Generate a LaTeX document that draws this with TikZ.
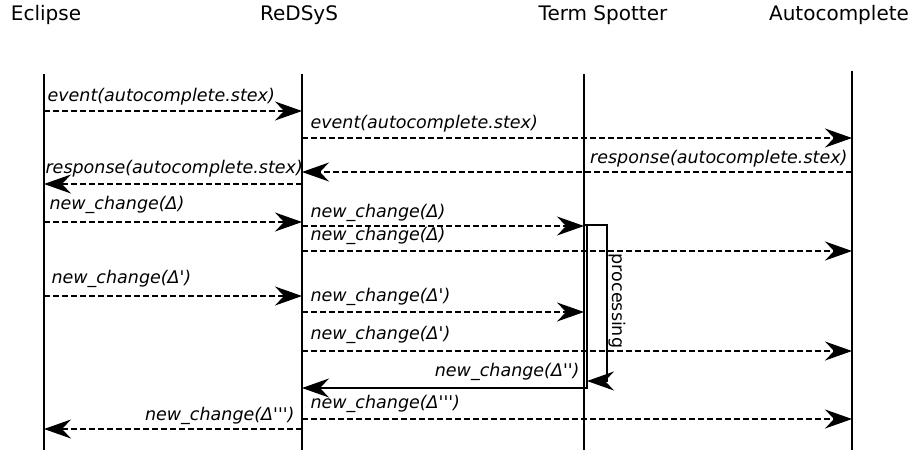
\documentclass[tikz,border=0pt]{standalone}
\usepackage{fontspec}
\newfontfamily\seqfont{DejaVu Sans}[ItalicFont={DejaVu Sans Oblique}]
\usetikzlibrary{arrows.meta}

\tikzset{
	actor/.style={font=\seqfont\fontsize{20}{24}\selectfont,anchor=base,inner sep=0pt},
	lbl/.style={font=\seqfont\itshape\fontsize{17.5}{21}\selectfont,inner sep=0pt},
	lifeline/.style={line width=1.4pt},
	tip/.tip={Stealth[length=27pt,width=19pt,inset=9pt]},
	msg/.style={line width=1.1pt,dash pattern=on 6pt off 3pt,-tip},
	ret/.style={line width=1.1pt,-tip}
}

\begin{document}
\begin{tikzpicture}[x=1pt,y=-1pt]
	\useasboundingbox (0,0) rectangle (921,451);

	% actors
	\node[actor] (eclipse) at (46,20) {Eclipse};
	\node[actor] (redsys) at (299,20) {ReDSyS};
	\node[actor] (spotter) at (603,20) {Term Spotter};
	\node[actor] (autoc) at (839,20) {Autocomplete};

	% lifelines
	\coordinate (ecl) at (44,74);
	\coordinate (rds) at (302,74);
	\coordinate (tsp) at (584,74);
	\coordinate (acp) at (852,71);
	\foreach \l in {ecl,rds,tsp,acp}
		\draw[lifeline] (\l) -- (\l |- 0,450);

	% activation of the term spotter
	\coordinate (act) at (tsp |- 0,225);
	\draw[line width=1.1pt] (act) rectangle (587,388);
	\draw[line width=1.3pt,-tip] (587,225) -| (607,381) -- (587,381);
	\node[font=\seqfont\fontsize{17.5}{21}\selectfont,rotate=-90,inner sep=0pt]
		(proc) at (617,301) {processing};

	% messages
	\draw[msg] (ecl |- 0,111) -- (rds |- 0,111)
		node[lbl,anchor=base west] at (47,101) {event(autocomplete.stex)};
	\draw[msg] (rds |- 0,138) -- (acp |- 0,138)
		node[lbl,anchor=base west] at (310,128) {event(autocomplete.stex)};
	\draw[msg] (acp |- 0,172) -- (rds |- 0,172)
		node[lbl,anchor=base east] at (848,163) {response(autocomplete.stex)};
	\draw[msg] (rds |- 0,184) -- (ecl |- 0,184)
		node[lbl,anchor=base west] at (45,173) {response(autocomplete.stex)};

	\draw[msg] (ecl |- 0,222) -- (rds |- 0,222)
		node[lbl,anchor=base west] at (49,209) {new\_change(Δ)};
	\draw[msg] (rds |- 0,226) -- (tsp |- 0,226)
		node[lbl,anchor=base west] at (310,217) {new\_change(Δ)};
	\draw[msg] (rds |- 0,251) -- (acp |- 0,251)
		node[lbl,anchor=base west] at (310,240) {new\_change(Δ)};

	\draw[msg] (ecl |- 0,296) -- (rds |- 0,296)
		node[lbl,anchor=base west] at (51,283) {new\_change(Δ')};
	\draw[msg] (rds |- 0,312) -- (tsp |- 0,312)
		node[lbl,anchor=base west] at (310,301) {new\_change(Δ')};
	\draw[msg] (rds |- 0,351) -- (acp |- 0,351)
		node[lbl,anchor=base west] at (310,339) {new\_change(Δ')};

	\draw[ret] (tsp |- 0,388) -- (rds |- 0,388)
		node[lbl,anchor=base east] at (580,376) {new\_change(Δ'')};
	\draw[msg] (rds |- 0,419) -- (acp |- 0,419)
		node[lbl,anchor=base west] at (310,408) {new\_change(Δ''')};
	\draw[msg] (rds |- 0,429) -- (ecl |- 0,429)
		node[lbl,anchor=base east] at (295,420) {new\_change(Δ''')};
\end{tikzpicture}
\end{document}
